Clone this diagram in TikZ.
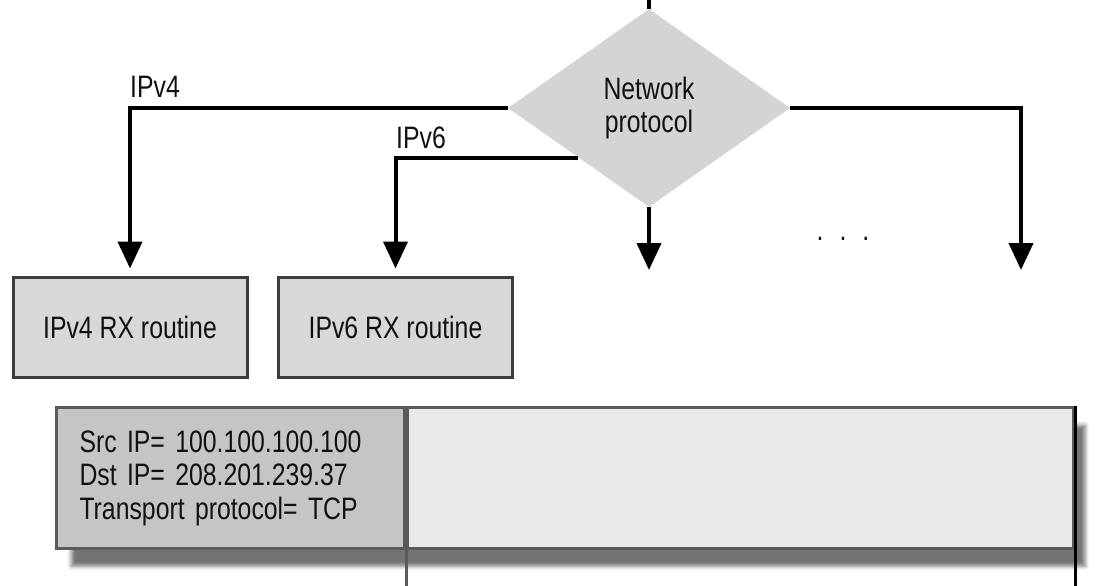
\documentclass[tikz,border=0pt]{standalone}
\usepackage{fontspec}
\setmainfont{Liberation Sans}[FakeStretch=0.8]
\usepackage{xcolor}
\usepackage{tikz}
\usetikzlibrary{shapes.geometric,arrows.meta,calc,shadows.blur}

\definecolor{protogray}{HTML}{D4D4D4}
\definecolor{routinegray}{HTML}{D8D8D8}
\definecolor{routineedge}{HTML}{3C3C3C}
\definecolor{headergray}{HTML}{C5C5C5}
\definecolor{payloadgray}{HTML}{E9E9E9}
\definecolor{packetedge}{HTML}{5A5A5A}
\definecolor{inktext}{HTML}{111111}

\begin{document}
\begin{tikzpicture}[
    x=1pt, y=-1pt,
    every node/.style={text=inktext},
    decision/.style={
        diamond,
        fill=protogray,
        minimum width=282pt,
        minimum height=198pt,
        inner sep=0pt,
        align=center,
        font=\fontsize{31}{33}\selectfont
    },
    routine/.style={
        rectangle,
        draw=routineedge,
        fill=routinegray,
        line width=3pt,
        minimum width=234pt,
        minimum height=100pt,
        font=\fontsize{31}{33}\selectfont
    },
    header/.style={
        rectangle,
        draw=packetedge,
        fill=headergray,
        line width=3pt,
        minimum width=348pt,
        minimum height=141pt,
        text width=302pt,
        inner xsep=23pt,
        align=left,
        font=\fontsize{31}{33.5}\selectfont
    },
    payload/.style={
        rectangle,
        draw=packetedge,
        fill=payloadgray,
        line width=3pt,
        minimum width=666pt,
        minimum height=141pt
    },
    packetshadow/.style={
        rectangle,
        minimum width=1014pt,
        minimum height=141pt,
        blur shadow={shadow xshift=16pt, shadow yshift=-19pt, shadow blur radius=4pt, shadow opacity=55}
    },
    branch/.style={
        font=\fontsize{31}{33}\selectfont,
        anchor=base west,
        inner sep=0pt
    },
    arrow/.style={
        -{Triangle[width=24pt,length=27pt]},
        line width=4pt
    },
    cutline/.style={
        line width=3pt
    }
]
\useasboundingbox (0,0) rectangle (1101,586);

% Components
\node[packetshadow, anchor=north west] (packet) at (55,406) {};
\node[decision] (proto) at (649,108) {Network\\protocol};
\node[routine] (ipv4rx) at (130,327) {IPv4 RX routine};
\node[routine] (ipv6rx) at (395.5,327) {IPv6 RX routine};
\node[header, anchor=north west] (hdr) at (packet.north west) {Src IP= 100.100.100.100\\Dst IP= 208.201.239.37\\Transport protocol= TCP};
\node[payload, anchor=north west] (body) at (hdr.north east) {};

% Loose ends
\coordinate (top) at (649,0);
\coordinate (other) at (649,270);
\coordinate (more) at (1021,270);
\coordinate (cut) at (0,586);

% Arrows
\draw[line width=4pt] (top) -- (proto.north);
\draw[arrow] (proto.west) -| ([yshift=7pt]ipv4rx.north);
\draw[arrow] ($(proto.west)!0.5!(proto.south)$) -| ([yshift=7pt]ipv6rx.north);
\draw[arrow] (proto.south) -- (other);
\draw[arrow] (proto.east) -| (more);

% Labels
\node[branch] (lbl4) at (130,97) {IPv4};
\node[branch] (lbl6) at (396,148) {IPv6};
\node[branch, anchor=base] (dots) at (843,240) {.\hspace{16pt}.\hspace{16pt}.};

% Packet continues below
\draw[cutline, draw=packetedge] (hdr.south east) -- (hdr.south east |- cut);
\draw[cutline, draw=black] (body.north east) -- (body.north east |- cut);

\end{tikzpicture}
\end{document}
